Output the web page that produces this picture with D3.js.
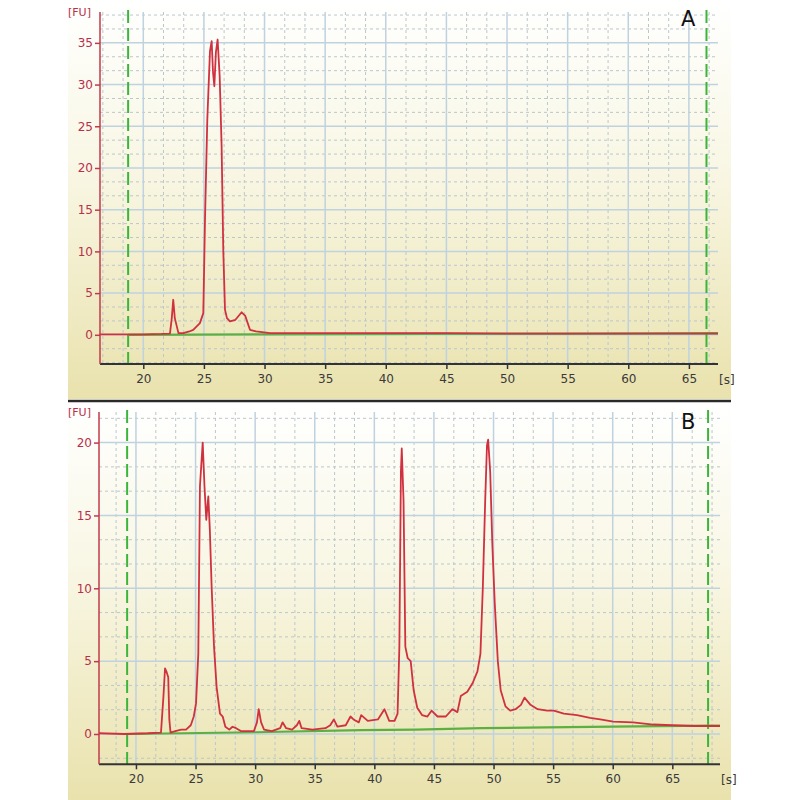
<!DOCTYPE html>
<html>
<head>
<meta charset="utf-8">
<script src="https://cdn.jsdelivr.net/npm/d3@7/dist/d3.min.js"></script>
<style>
  html, body { margin: 0; padding: 0; background: #ffffff; }
  svg { display: block; }
  text { font-family: "DejaVu Sans", Verdana, sans-serif; }
</style>
</head>
<body>
<svg id="chart" width="800" height="800"></svg>
<script>
// ---------------- DATA ----------------
const xTicks = [20, 25, 30, 35, 40, 45, 50, 55, 60, 65];
const yTicksA = [0, 5, 10, 15, 20, 25, 30, 35];
const yTicksB = [0, 5, 10, 15, 20];
const panelLabels = ["A", "B"];
const yUnit = "[FU]";
const xUnit = "[s]";

// Panel A electropherogram: [time (s), fluorescence (FU)]
const traceA = [
  [16.4, 0.05], [18, 0.05], [20, 0.05], [21.5, 0.1], [22.2, 0.15], [22.35, 2.0],
  [22.47, 4.2], [22.6, 2.0], [22.9, 0.2], [23.3, 0.2], [23.8, 0.4], [24.12, 0.6],
  [24.67, 1.4], [24.95, 2.6], [25.09, 13.8], [25.28, 25.8], [25.5, 34], [25.64, 35.2],
  [25.75, 31.5], [25.86, 29.8], [25.99, 33.9], [26.13, 35.4], [26.3, 31], [26.46, 22.6],
  [26.6, 10], [26.74, 3], [26.9, 2], [27.15, 1.6], [27.6, 1.8], [28.11, 2.7],
  [28.4, 2.3], [28.8, 0.6], [29.3, 0.4], [30.45, 0.2], [32, 0.2], [35, 0.2],
  [40, 0.2], [45, 0.2], [50, 0.15], [55, 0.15], [60, 0.15], [65, 0.15], [67.4, 0.15]
];
const baselineA = [[18.75, 0.0], [30, 0.05], [55, 0.15], [67.4, 0.2]];

// Panel B electropherogram
const traceB = [
  [16.9, 0.05], [19, 0.0], [21, 0.05], [22.1, 0.1], [22.3, 2.5], [22.44, 4.5],
  [22.55, 4.3], [22.71, 3.9], [22.8, 1.0], [22.9, 0.1], [23.3, 0.2], [23.8, 0.3],
  [24.2, 0.3], [24.6, 0.6], [24.85, 1.2], [25.04, 2.1], [25.23, 5.5], [25.37, 17],
  [25.6, 20], [25.75, 17], [25.9, 14.7], [26.07, 16.3], [26.2, 14], [26.35, 10.1],
  [26.55, 6], [26.77, 3.2], [27.05, 1.4], [27.28, 1.2], [27.5, 0.5], [27.83, 0.3],
  [28.1, 0.5], [28.4, 0.4], [28.8, 0.2], [29.5, 0.2], [29.9, 0.2], [30.15, 0.8],
  [30.3, 1.7], [30.5, 0.8], [30.75, 0.3], [31.4, 0.2], [32.1, 0.4], [32.3, 0.8],
  [32.6, 0.4], [33.1, 0.3], [33.5, 0.6], [33.7, 0.9], [33.9, 0.4], [34.8, 0.3],
  [35.9, 0.4], [36.3, 0.6], [36.6, 1.0], [36.9, 0.5], [37.6, 0.6], [38.0, 1.2],
  [38.25, 1.0], [38.7, 0.8], [38.9, 1.3], [39.45, 0.9], [40.3, 1.0], [40.85, 1.7],
  [41.25, 0.9], [41.7, 0.9], [41.95, 1.4], [42.1, 6], [42.23, 18], [42.3, 19.6],
  [42.45, 16], [42.6, 6], [42.8, 5.2], [43.05, 5.0], [43.3, 3.0], [43.6, 1.8],
  [44.0, 1.3], [44.45, 1.2], [44.8, 1.6], [45.3, 1.2], [46.0, 1.2], [46.55, 1.7],
  [46.97, 1.5], [47.25, 2.6], [47.8, 2.9], [48.25, 3.5], [48.65, 4.3], [48.9, 5.5],
  [49.1, 10], [49.3, 16], [49.45, 19.8], [49.55, 20.2], [49.72, 18], [49.9, 13],
  [50.1, 9], [50.36, 5], [50.6, 3], [51.0, 1.9], [51.4, 1.6], [51.85, 1.7],
  [52.3, 2.0], [52.6, 2.5], [53.1, 2.0], [53.7, 1.7], [54.5, 1.6], [55.05, 1.6],
  [55.9, 1.4], [57.0, 1.3], [58.1, 1.1], [58.95, 1.0], [60.05, 0.85], [61.7, 0.8],
  [63.4, 0.65], [65.0, 0.6], [66.75, 0.55], [69.0, 0.55]
];
const baselineB = [[19.3, 0.0], [30, 0.12], [38.9, 0.27], [43.5, 0.3], [49, 0.4], [54.5, 0.45], [60, 0.5], [68, 0.57], [69, 0.58]];

// Ladder/marker boundaries (green dashed lines), seconds
const markersA = [18.75, 66.45];
const markersB = [19.26, 68.0];

// ---------------- DRAW ----------------
const svg = d3.select("#chart");
const defs = svg.append("defs");
const grad = defs.append("linearGradient").attr("id", "bg").attr("x1", 0).attr("y1", 0).attr("x2", 0).attr("y2", 1);
grad.append("stop").attr("offset", "0%").attr("stop-color", "#ffffff");
grad.append("stop").attr("offset", "45%").attr("stop-color", "#f8f6e2");
grad.append("stop").attr("offset", "100%").attr("stop-color", "#e9e2ad");

const panels = [
  { top: 0, height: 399, x0: 100, x1: 718, y0: 12, y1: 364, xDom: [16.43, 67.4], yDom: [-3.5, 38.7],
    yTicks: yTicksA, trace: traceA, base: baselineA, markers: markersA, label: panelLabels[0],
    gridRight: 718 },
  { top: 403, height: 397, x0: 99, x1: 720, y0: 412, y1: 764.3, xDom: [16.9, 69.0], yDom: [-2.08, 22.1],
    yTicks: yTicksB, trace: traceB, base: baselineB, markers: markersB, label: panelLabels[1],
    gridRight: 720 }
];

svg.append("rect").attr("x", 68).attr("y", 0).attr("width", 663).attr("height", 399).attr("fill", "url(#bg)");
svg.append("rect").attr("x", 68).attr("y", 403).attr("width", 663).attr("height", 397).attr("fill", "url(#bg)");
svg.append("line").attr("x1", 68).attr("x2", 731).attr("y1", 401).attr("y2", 401)
  .attr("stroke", "#2a2a2a").attr("stroke-width", 2.5);

const minorStep = 5 / 3;

panels.forEach(p => {
  const g = svg.append("g");
  const x = d3.scaleLinear().domain(p.xDom).range([p.x0, p.x1]);
  const y = d3.scaleLinear().domain(p.yDom).range([p.y1, p.y0]);

  const xMinor = d3.range(Math.ceil(p.xDom[0] / minorStep), Math.floor(p.xDom[1] / minorStep) + 1)
    .map(k => k * minorStep).filter(v => Math.abs(v / 5 - Math.round(v / 5)) > 0.01);
  const yMinor = d3.range(Math.ceil(p.yDom[0] / minorStep), Math.floor(p.yDom[1] / minorStep) + 1)
    .map(k => k * minorStep).filter(v => Math.abs(v / 5 - Math.round(v / 5)) > 0.01);

  g.selectAll(".vminor").data(xMinor).join("line")
    .attr("x1", d => x(d)).attr("x2", d => x(d)).attr("y1", p.y0).attr("y2", p.y1)
    .attr("stroke", "#bcc7ca").attr("stroke-width", 1).attr("stroke-dasharray", "3,3");
  g.selectAll(".hminor").data(yMinor).join("line")
    .attr("x1", p.x0).attr("x2", p.gridRight).attr("y1", d => y(d)).attr("y2", d => y(d))
    .attr("stroke", "#bcc7ca").attr("stroke-width", 1).attr("stroke-dasharray", "3,3");

  g.selectAll(".vmajor").data(xTicks).join("line")
    .attr("x1", d => x(d)).attr("x2", d => x(d)).attr("y1", p.y0).attr("y2", p.y1)
    .attr("stroke", "#bfd2df").attr("stroke-width", 1.5);
  g.selectAll(".hmajor").data(p.yTicks).join("line")
    .attr("x1", p.x0).attr("x2", p.gridRight).attr("y1", d => y(d)).attr("y2", d => y(d))
    .attr("stroke", "#bfd2df").attr("stroke-width", 1.5);

  g.selectAll(".marker").data(p.markers).join("line")
    .attr("x1", d => x(d)).attr("x2", d => x(d)).attr("y1", p.y0 - 2).attr("y2", p.y1)
    .attr("stroke", "#3cb53a").attr("stroke-width", 2).attr("stroke-dasharray", "13,5");

  const line = d3.line().x(d => x(d[0])).y(d => y(d[1]));

  g.append("path").datum(p.base).attr("d", line)
    .attr("fill", "none").attr("stroke", "#5cb043").attr("stroke-width", 2.2);

  g.append("path").datum(p.trace).attr("d", line)
    .attr("fill", "none").attr("stroke", "#d0313f").attr("stroke-width", 1.8)
    .attr("stroke-linejoin", "round");

  const xAxis = d3.axisBottom(x).tickValues(xTicks).tickSize(5).tickPadding(5).tickFormat(d3.format("d"));
  const xa = g.append("g").attr("transform", `translate(0,${p.y1})`).call(xAxis);
  xa.select(".domain").attr("stroke", "#333").attr("stroke-width", 2)
    .attr("d", `M${p.x0},0H${p.gridRight}`);
  xa.selectAll(".tick line").attr("stroke", "#333").attr("stroke-width", 1.5);
  xa.selectAll(".tick text").attr("fill", "#3a3a3a").style("font-size", "12px");

  const yAxis = d3.axisLeft(y).tickValues(p.yTicks).tickSize(5).tickPadding(2).tickFormat(d3.format("d"));
  const ya = g.append("g").attr("transform", `translate(${p.x0},0)`).call(yAxis);
  ya.select(".domain").attr("stroke", "#c23a4a").attr("stroke-width", 1.5)
    .attr("d", `M0,${p.y0}V${p.y1}`);
  ya.selectAll(".tick line").attr("stroke", "#c23a4a").attr("stroke-width", 1.5);
  ya.selectAll(".tick text").attr("fill", "#b8304a").style("font-size", "12px");

  g.append("text").attr("x", 68).attr("y", p.y0 + 4).text(yUnit)
    .attr("fill", "#b8304a").style("font-size", "11px");
  g.append("text").attr("x", p.gridRight + 1).attr("y", p.y1 + 20).text(xUnit)
    .attr("fill", "#3a3a3a").style("font-size", "12px");

  g.append("text").attr("x", 681).attr("y", p.top + 26).text(p.label)
    .attr("fill", "#111").style("font-size", "21px");
});
</script>
</body>
</html>
